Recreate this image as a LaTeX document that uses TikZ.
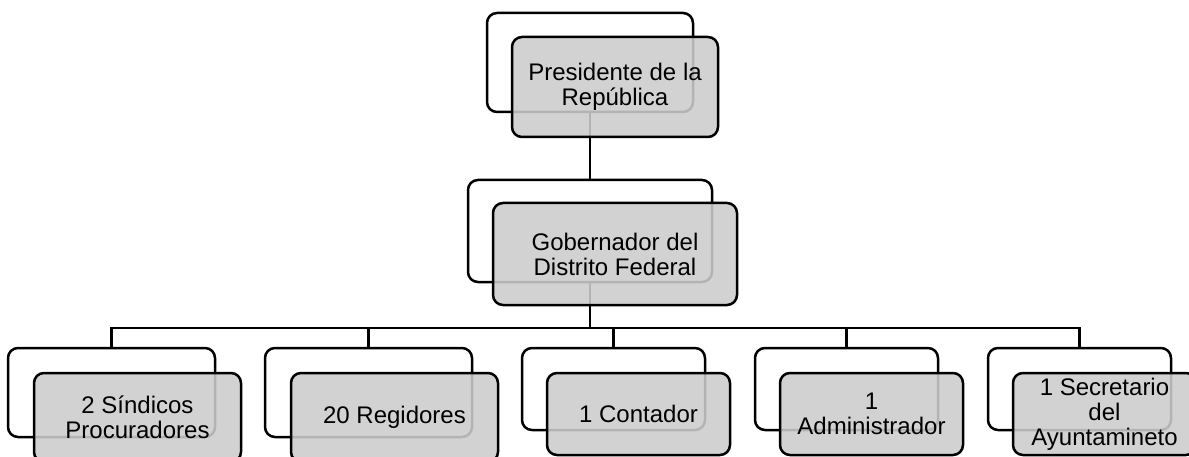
\documentclass[tikz,border=0pt]{standalone}
\usepackage{fontspec}
\setmainfont{Liberation Sans}
\usetikzlibrary{positioning}
\definecolor{boxgray}{gray}{0.8}
\tikzset{
    backbox/.style={draw, line width=2.5pt, rounded corners=10pt}, % the open frame behind each box
    frontbox/.style={draw, line width=2.5pt, rounded corners=10pt, fill=boxgray, fill opacity=0.88, text opacity=1,
        align=center, inner sep=2pt, font={\fontsize{24}{25}\selectfont}}, % the grey box with the text
    link/.style={line width=2.5pt}, % lines between the boxes
    wide/.style={minimum width=207pt, minimum height=89pt},
    narrow/.style={minimum width=183pt, minimum height=82pt},
}

\begin{document}
\begin{tikzpicture}[x=1pt, y=-1pt]
    \useasboundingbox (0,0) rectangle (1189,457);
    % frames
    \node[backbox, minimum width=206pt, minimum height=99pt] (p1b) at (590,62.5) {};
    \node[backbox, minimum width=244pt, minimum height=102pt] (g1b) at (590,231) {};
    \node[backbox, wide] (c1b) at (111.5,392.5) {};
    \node[backbox, wide, right=47.5pt of c1b] (c2b) {};
    \node[backbox, narrow, right=47.5pt of c2b.north east, anchor=north west] (c3b) {};
    \node[backbox, narrow, right=47.5pt of c3b] (c4b) {};
    \node[backbox, narrow, right=47.5pt of c4b] (c5b) {};
    % links
    \coordinate (bus) at (590,328);
    \draw[link] (p1b) -- (g1b);
    \draw[link] (g1b) -- (bus) -| (c1b)
        (bus) -| (c2b)
        (bus) -| (c3b)
        (bus) -| (c4b)
        (bus) -| (c5b);
    % boxes
    \node[frontbox, minimum width=206pt, minimum height=100pt] (p1) at ([shift={(25,24.5)}]p1b) {Presidente de la\\República};
    \node[frontbox, minimum width=244pt, minimum height=102pt] (g1) at ([shift={(25,23)}]g1b) {Gobernador del\\Distrito Federal};
    \node[frontbox, wide] (c1) at ([shift={(26,25)}]c1b) {2 Síndicos\\Procuradores};
    \node[frontbox, wide] (c2) at ([shift={(26,25)}]c2b) {20 Regidores};
    \node[frontbox, narrow] (c3) at ([shift={(25,25)}]c3b) {1 Contador};
    \node[frontbox, narrow] (c4) at ([shift={(25,25)}]c4b) {1\\Administrador};
    \node[frontbox, narrow] (c5) at ([shift={(25,25)}]c5b) {1 Secretario\\del\\Ayuntamineto};
\end{tikzpicture}
\end{document}
